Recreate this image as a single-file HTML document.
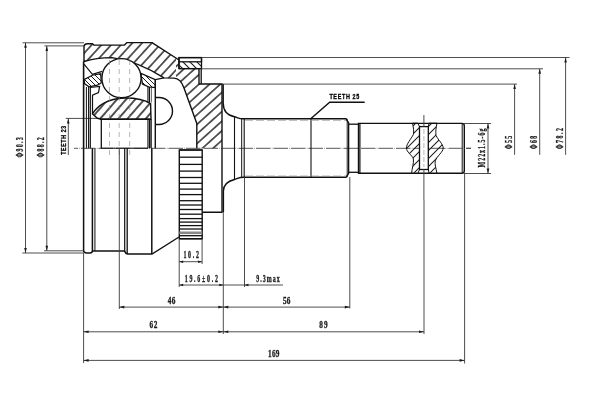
<!DOCTYPE html>
<html><head><meta charset="utf-8"><style>
html,body{margin:0;padding:0;background:#fff;}
svg{display:block;} text{filter:grayscale(1);}
</style></head><body>
<svg width="600" height="400" viewBox="0 0 600 400">
<defs>
<pattern id="h" patternUnits="userSpaceOnUse" width="20" height="7.2" patternTransform="translate(142.1,43) rotate(-47.7)">
<path d="M-1,0 H21 M-1,7.2 H21" stroke="#151515" stroke-width="1.3"/>
</pattern>
<pattern id="hn" patternUnits="userSpaceOnUse" width="20" height="7.13" patternTransform="translate(221.4,102.4) rotate(-42)">
<path d="M-1,0 H21 M-1,7.13 H21" stroke="#151515" stroke-width="1.3"/>
</pattern>
<pattern id="hl" patternUnits="userSpaceOnUse" width="20" height="6.87" patternTransform="translate(118.6,118.5) rotate(-49)">
<path d="M-1,0 H21 M-1,6.87 H21" stroke="#151515" stroke-width="1.3"/>
</pattern>
<pattern id="hc" patternUnits="userSpaceOnUse" x="2" width="7" height="7">
<path d="M0,0 l7,7 M-1,6 l2,2 M6,-1 l2,2" stroke="#1a1a1a" stroke-width="1.1"/>
</pattern>
<pattern id="hg" patternUnits="userSpaceOnUse" x="3" width="8" height="8">
<path d="M-1,1 l2,-2 M0,8 l8,-8 M7,9 l2,-2" stroke="#1a1a1a" stroke-width="1.05"/>
</pattern>
<pattern id="h3" patternUnits="userSpaceOnUse" width="5" height="5">
<path d="M0,0 l5,5 M-1,4 l2,2 M4,-1 l2,2" stroke="#1a1a1a" stroke-width="1"/>
</pattern>
<clipPath id="cth"><rect x="359" y="0" width="120" height="400"/></clipPath>
<clipPath id="cl"><rect x="0" y="0" width="176" height="400"/></clipPath>
<clipPath id="cr"><rect x="176" y="0" width="424" height="400"/></clipPath>
</defs>
<rect width="600" height="400" fill="#fff"/>
<line x1="74" y1="148.3" x2="471" y2="148.3" stroke="#444" stroke-width="0.9" stroke-dasharray="14.5 1.3 0.6 1.1" stroke-dashoffset="10.5"/>
<line x1="22.5" y1="42.8" x2="84" y2="42.8" stroke="#3a3a3a" stroke-width="0.9" />
<line x1="22.3" y1="253" x2="84" y2="253" stroke="#3a3a3a" stroke-width="0.9" />
<line x1="25.5" y1="42.8" x2="25.5" y2="253" stroke="#3a3a3a" stroke-width="0.9" />
<polygon points="25.5,42.8 24.2,47.8 26.8,47.8" fill="#1a1a1a"/>
<polygon points="25.5,253 24.2,248 26.8,248" fill="#1a1a1a"/>
<text transform="translate(23.0,157.6) rotate(-90) scale(0.62,1)" x="0" y="0" font-family="Liberation Serif" font-size="9.6" font-weight="bold" fill="#1a1a1a" stroke="#1a1a1a" stroke-width="0.3" textLength="32.90" lengthAdjust="spacing">&#934;90.3</text>
<line x1="44.4" y1="45.9" x2="84" y2="45.9" stroke="#3a3a3a" stroke-width="0.9" />
<line x1="44" y1="250.8" x2="84" y2="250.8" stroke="#3a3a3a" stroke-width="0.9" />
<line x1="46.8" y1="45.9" x2="46.8" y2="250.8" stroke="#3a3a3a" stroke-width="0.9" />
<polygon points="46.8,45.9 45.5,50.9 48.099999999999994,50.9" fill="#1a1a1a"/>
<polygon points="46.8,250.8 45.5,245.8 48.099999999999994,245.8" fill="#1a1a1a"/>
<text transform="translate(44.0,157.6) rotate(-90) scale(0.62,1)" x="0" y="0" font-family="Liberation Serif" font-size="9.6" font-weight="bold" fill="#1a1a1a" stroke="#1a1a1a" stroke-width="0.3" textLength="32.90" lengthAdjust="spacing">&#934;88.2</text>
<line x1="65.7" y1="118.4" x2="101" y2="118.4" stroke="#3a3a3a" stroke-width="0.9" />
<line x1="68.3" y1="118.4" x2="68.3" y2="155" stroke="#3a3a3a" stroke-width="0.9" />
<polygon points="68.3,118.4 67.0,123.4 69.6,123.4" fill="#1a1a1a"/>
<text transform="translate(65.7,154.8) rotate(-90) scale(0.8,1)" x="0" y="0" font-family="Liberation Sans" font-size="6.5" font-weight="bold" fill="#000" stroke="#000" stroke-width="0.3" textLength="36.25" lengthAdjust="spacing">TEETH 23</text>
<path d="M84,62 L84,47 Q84,43.8 87.5,43.8 L92.5,43.8 L93.8,45.1 L124.5,45.1 L127,42.6 L152,42.6 L179,60 L179,68.6 L199,68.6 L199,84 L222,84 L222,148.3 L196.8,148.3 L196.8,123.5 L184,88 C182,82 179,78.3 174,78.1 L164,77.9 C150,69 130,60 112,57.6 C100,57.6 90,59.5 84,61.5 Z" fill="url(#h)" clip-path="url(#cl)"/>
<path d="M84,62 L84,47 Q84,43.8 87.5,43.8 L92.5,43.8 L93.8,45.1 L124.5,45.1 L127,42.6 L152,42.6 L179,60 L179,68.6 L199,68.6 L199,84 L222,84 L222,148.3 L196.8,148.3 L196.8,123.5 L184,88 C182,82 179,78.3 174,78.1 L164,77.9 C150,69 130,60 112,57.6 C100,57.6 90,59.5 84,61.5 Z" fill="url(#hn)" clip-path="url(#cr)"/>
<path d="M84,62 L84,47 Q84,43.8 87.5,43.8 L92.5,43.8 L93.8,45.1 L124.5,45.1 L127,42.6 L152,42.6 L179,60 L179,68.6 L199,68.6 L199,84 L222,84 L222,148.3 M196.8,148.3 L196.8,123.5 L184,88 C182,82 179,78.3 174,78.1 L164,77.9 C150,69 130,60 112,57.6 C100,57.6 90,59.5 84,61.5" fill="none" stroke="#111" stroke-width="1.4" stroke-linejoin="round"/>
<path d="M92.5,113.9 C97,106 108,98.5 124,98 C136,97.8 145,100 150.6,103.6 L151,119.2 L101.3,119.2 L97.4,118.3 Z" fill="url(#hl)" stroke="#111" stroke-width="1.4"/>
<path d="M84,79.6 L92.4,75.2 L100.7,73.6 L101.2,83 L97.4,85.1 L89.1,86.8 L84.7,83.8 Z" fill="url(#h3)" stroke="#111" stroke-width="1.2"/>
<path d="M141,73.4 L155.3,79.6 L155.3,87.5 L148.6,86.9 L142.4,84 Z" fill="url(#h3)" stroke="#111" stroke-width="1.2"/>
<path d="M84,64.2 L92.4,74.4 L102.3,71.4" fill="none" stroke="#111" stroke-width="1.2"/>
<circle cx="121.5" cy="78.2" r="19.6" fill="#fff" stroke="#111" stroke-width="1.4"/>
<rect x="179" y="61.8" width="22.5" height="6.8" fill="url(#hc)"/>
<line x1="201.2" y1="68.6" x2="201.2" y2="84" stroke="#111" stroke-width="1.3" />
<rect x="179" y="57.6" width="22.5" height="4.2" fill="#fff" stroke="#111" stroke-width="1.3"/>
<rect x="179" y="57.6" width="22.5" height="11" fill="none" stroke="#111" stroke-width="1.3"/>
<path d="M155.3,97.5 L159,97.5 A13.5,13.5 0 0 1 159,124.5 L155.3,124.5" fill="#fff" stroke="#111" stroke-width="1.4"/>
<path d="M101.3,119.2 L101.3,148.3 M151,119.2 L151,148.3" stroke="#111" stroke-width="1.3"/>
<line x1="100" y1="119.2" x2="151" y2="119.2" stroke="#111" stroke-width="1.4" />
<line x1="101" y1="148.2" x2="148" y2="148.2" stroke="#111" stroke-width="1.0" />
<line x1="83.6" y1="61.5" x2="83.6" y2="148.3" stroke="#111" stroke-width="1.6" />
<line x1="86.4" y1="87" x2="86.4" y2="148.3" stroke="#111" stroke-width="1.0" />
<line x1="88.6" y1="87" x2="88.6" y2="148.3" stroke="#111" stroke-width="1.1" />
<path d="M90.3,148.3 L90.3,87.5 L99.6,86.4 L98.5,92.5 L92.5,95.2 L92.5,113.9" fill="none" stroke="#111" stroke-width="1.2"/>
<line x1="147.9" y1="87" x2="147.9" y2="102.5" stroke="#111" stroke-width="1.0" />
<line x1="149.4" y1="87" x2="149.4" y2="102.5" stroke="#111" stroke-width="1.3" />
<line x1="151.4" y1="87" x2="151.4" y2="102.5" stroke="#3a3a3a" stroke-width="0.8" />
<line x1="147.9" y1="119.2" x2="147.9" y2="148.3" stroke="#111" stroke-width="1.0" />
<line x1="149.4" y1="119.2" x2="149.4" y2="148.3" stroke="#111" stroke-width="1.3" />
<line x1="151.4" y1="119.2" x2="151.4" y2="148.3" stroke="#3a3a3a" stroke-width="0.8" />
<line x1="155.3" y1="79.6" x2="155.3" y2="148.3" stroke="#111" stroke-width="1.4" />
<line x1="155.3" y1="79.6" x2="164" y2="77.9" stroke="#111" stroke-width="1.2" />
<line x1="109.5" y1="60" x2="109.5" y2="158" stroke="#888" stroke-width="0.6" stroke-dasharray="5 4"/>
<line x1="119.2" y1="60" x2="119.2" y2="158" stroke="#888" stroke-width="0.6" stroke-dasharray="5 4"/>
<line x1="129.7" y1="60" x2="129.7" y2="158" stroke="#888" stroke-width="0.6" stroke-dasharray="5 4"/>
<path d="M83.6,148.3 L83.6,250 Q83.6,253 87,253 L90,253 Q92.4,253 92.4,250.8 L92.4,148.3" fill="none" stroke="#111" stroke-width="1.5"/>
<line x1="94.9" y1="148.3" x2="94.9" y2="251" stroke="#444" stroke-width="1.3" />
<line x1="92.4" y1="251" x2="125" y2="251" stroke="#111" stroke-width="1.4" />
<line x1="124.7" y1="148.3" x2="124.7" y2="251" stroke="#111" stroke-width="1.2" />
<path d="M124.7,251 Q125.5,254 128,254 L152,254 L179,237" fill="none" stroke="#111" stroke-width="1.4"/>
<line x1="127.2" y1="148.3" x2="127.2" y2="254" stroke="#111" stroke-width="1.3" />
<line x1="151.8" y1="148.3" x2="151.8" y2="254" stroke="#111" stroke-width="1.5" />
<rect x="179.3" y="150" width="22.9" height="88.7" fill="#fff" stroke="#111" stroke-width="1.4"/>
<line x1="179.3" y1="150" x2="202.2" y2="150" stroke="#111" stroke-width="1.3" />
<line x1="179.3" y1="157.2" x2="202.2" y2="157.2" stroke="#111" stroke-width="1.3" />
<line x1="179.3" y1="164.4" x2="202.2" y2="164.4" stroke="#111" stroke-width="1.3" />
<line x1="179.3" y1="171.1" x2="202.2" y2="171.1" stroke="#111" stroke-width="1.3" />
<line x1="179.3" y1="177.5" x2="202.2" y2="177.5" stroke="#111" stroke-width="1.3" />
<line x1="179.3" y1="183.3" x2="202.2" y2="183.3" stroke="#111" stroke-width="1.3" />
<line x1="179.3" y1="189.1" x2="202.2" y2="189.1" stroke="#111" stroke-width="1.3" />
<line x1="179.3" y1="194.6" x2="202.2" y2="194.6" stroke="#111" stroke-width="1.3" />
<line x1="179.3" y1="200.7" x2="202.2" y2="200.7" stroke="#111" stroke-width="1.3" />
<line x1="179.3" y1="205" x2="202.2" y2="205" stroke="#111" stroke-width="1.3" />
<line x1="179.3" y1="209.5" x2="202.2" y2="209.5" stroke="#111" stroke-width="1.3" />
<line x1="179.3" y1="214.2" x2="202.2" y2="214.2" stroke="#111" stroke-width="1.3" />
<line x1="179.3" y1="218.6" x2="202.2" y2="218.6" stroke="#111" stroke-width="1.3" />
<line x1="179.3" y1="222.1" x2="202.2" y2="222.1" stroke="#111" stroke-width="1.3" />
<line x1="179.3" y1="225.6" x2="202.2" y2="225.6" stroke="#111" stroke-width="1.3" />
<line x1="179.3" y1="229" x2="202.2" y2="229" stroke="#111" stroke-width="1.3" />
<line x1="179.3" y1="235.7" x2="202.2" y2="235.7" stroke="#111" stroke-width="1.3" />
<line x1="179.3" y1="238.8" x2="202.2" y2="238.8" stroke="#111" stroke-width="1.3" />
<rect x="179.3" y="231.5" width="22.9" height="2.6" fill="#888"/>
<path d="M202.2,212.2 L222,212.2 L222,148.3" fill="none" stroke="#111" stroke-width="1.4"/>
<path d="M223.2,84 L223.2,103 C223.2,110.5 227,115.3 234.5,116.8 C237.5,117.6 239.5,118.8 243,118.8 L346,118.8 L348.6,122.8 L348.6,173.5 L346,177.3 L243.5,177.3 C239.5,177.3 237.5,178.6 234.5,179.5 C227.5,181.2 223.4,185 223.4,191 L223.4,212" fill="none" stroke="#111" stroke-width="1.4"/>
<line x1="234.5" y1="116.5" x2="234.5" y2="179.5" stroke="#111" stroke-width="1.1" />
<line x1="241.7" y1="118.8" x2="241.7" y2="177.3" stroke="#111" stroke-width="1.0" />
<line x1="244.2" y1="118.8" x2="244.2" y2="177.3" stroke="#111" stroke-width="1.1" />
<line x1="311" y1="118.8" x2="311" y2="177.3" stroke="#111" stroke-width="1.1" />
<line x1="347.2" y1="118.8" x2="347.2" y2="177.3" stroke="#111" stroke-width="0.9" />
<line x1="245" y1="120.5" x2="346" y2="120.5" stroke="#999" stroke-width="0.6" stroke-dasharray="8 3"/>
<line x1="245" y1="175.9" x2="346" y2="175.9" stroke="#999" stroke-width="0.6" stroke-dasharray="8 3"/>
<line x1="348.6" y1="124.2" x2="358.5" y2="124.2" stroke="#111" stroke-width="1.3" />
<line x1="348.6" y1="172.3" x2="358.5" y2="172.3" stroke="#111" stroke-width="1.3" />
<path d="M358.5,123.4 L462,123.4 Q464.3,123.4 464.3,126 L464.3,170.8 Q464.3,173.3 462,173.3 L358.5,173.3 Z" fill="#fff" stroke="#111" stroke-width="1.4"/>
<line x1="359.9" y1="123.2" x2="359.9" y2="173.5" stroke="#111" stroke-width="1.2" />
<line x1="462.2" y1="124" x2="462.2" y2="172.7" stroke="#111" stroke-width="1.0" />
<line x1="74" y1="148.3" x2="471" y2="148.3" stroke="#444" stroke-width="0.9" stroke-dasharray="14.5 1.3 0.6 1.1" stroke-dashoffset="10.5" clip-path="url(#cth)"/>
<path d="M412.5,123.2 C413.5,128 414,131 413.4,134.5 C411,139 406.4,144 406.4,148 C406.4,152 412,155 413.4,159 C414,163 412,168 411.6,173.5 L417.8,173.5 L419.5,169.5 L419.5,126.6 L417.8,123.2 Z" fill="url(#hg)" stroke="#111" stroke-width="1.0"/>
<path d="M437,123.2 C436,128 435.5,131 436,135.4 C438,140 443.2,144 443.2,148 C443.2,152 437,156 435.3,160.8 C434.5,164 436,168 437,173.5 L429.1,173.5 L428.3,169.5 L428.3,126.6 L429.1,123.2 Z" fill="url(#hg)" stroke="#111" stroke-width="1.0"/>
<rect x="419.5" y="126.6" width="8.8" height="42.9" fill="#fff" stroke="#111" stroke-width="1.3"/>
<line x1="423.9" y1="115" x2="423.9" y2="127" stroke="#3a3a3a" stroke-width="0.9" />
<line x1="423.9" y1="169" x2="423.9" y2="200" stroke="#3a3a3a" stroke-width="0.9" />
<line x1="423.9" y1="129" x2="423.9" y2="167" stroke="#999" stroke-width="0.7" stroke-dasharray="5 2"/>
<path d="M311,118.5 L329.7,102.3 L364.7,102.3" fill="none" stroke="#111" stroke-width="1.4"/>
<text transform="translate(329.4,98.8) scale(0.8,1)" x="0" y="0" font-family="Liberation Sans" font-size="6.8" font-weight="bold" fill="#000" stroke="#000" stroke-width="0.3" textLength="37.37" lengthAdjust="spacing">TEETH 25</text>
<line x1="201.5" y1="57.5" x2="569.5" y2="57.5" stroke="#3a3a3a" stroke-width="0.9" />
<line x1="201.5" y1="68.8" x2="543" y2="68.8" stroke="#3a3a3a" stroke-width="0.9" />
<line x1="222" y1="84.1" x2="517" y2="84.1" stroke="#3a3a3a" stroke-width="0.9" />
<line x1="565.6" y1="57.5" x2="565.6" y2="154.8" stroke="#3a3a3a" stroke-width="0.9" />
<polygon points="565.6,57.5 564.3000000000001,62.5 566.9,62.5" fill="#1a1a1a"/>
<line x1="539.7" y1="68.8" x2="539.7" y2="154.8" stroke="#3a3a3a" stroke-width="0.9" />
<polygon points="539.7,68.8 538.4000000000001,73.8 541.0,73.8" fill="#1a1a1a"/>
<line x1="514.6" y1="84.1" x2="514.6" y2="154.8" stroke="#3a3a3a" stroke-width="0.9" />
<polygon points="514.6,84.1 513.3000000000001,89.1 515.9,89.1" fill="#1a1a1a"/>
<text transform="translate(563.0,149.3) rotate(-90) scale(0.62,1)" x="0" y="0" font-family="Liberation Serif" font-size="9.6" font-weight="bold" fill="#1a1a1a" stroke="#1a1a1a" stroke-width="0.3" textLength="34.19" lengthAdjust="spacing">&#934;78.2</text>
<text transform="translate(537.4,149.3) rotate(-90) scale(0.62,1)" x="0" y="0" font-family="Liberation Serif" font-size="9.6" font-weight="bold" fill="#1a1a1a" stroke="#1a1a1a" stroke-width="0.3" textLength="21.94" lengthAdjust="spacing">&#934;68</text>
<text transform="translate(511.8,149.3) rotate(-90) scale(0.62,1)" x="0" y="0" font-family="Liberation Serif" font-size="9.6" font-weight="bold" fill="#1a1a1a" stroke="#1a1a1a" stroke-width="0.3" textLength="21.94" lengthAdjust="spacing">&#934;55</text>
<line x1="464" y1="123.5" x2="491" y2="123.5" stroke="#3a3a3a" stroke-width="0.9" />
<line x1="464" y1="173.5" x2="491" y2="173.5" stroke="#3a3a3a" stroke-width="0.9" />
<line x1="488" y1="123.5" x2="488" y2="173.5" stroke="#3a3a3a" stroke-width="0.9" />
<polygon points="488,123.5 486.7,128.5 489.3,128.5" fill="#1a1a1a"/>
<polygon points="488,173.5 486.7,168.5 489.3,168.5" fill="#1a1a1a"/>
<text transform="translate(485.2,167.4) rotate(-90) scale(0.62,1)" x="0" y="0" font-family="Liberation Serif" font-size="9.6" font-weight="bold" fill="#1a1a1a" stroke="#1a1a1a" stroke-width="0.3" textLength="62.58" lengthAdjust="spacing">M22x1.5-6g</text>
<line x1="83.6" y1="253" x2="83.6" y2="363" stroke="#3a3a3a" stroke-width="0.9" />
<line x1="119.3" y1="148.3" x2="119.3" y2="309" stroke="#3a3a3a" stroke-width="0.9" />
<line x1="179.2" y1="239" x2="179.2" y2="287" stroke="#3a3a3a" stroke-width="0.9" />
<line x1="202.1" y1="239" x2="202.1" y2="264" stroke="#3a3a3a" stroke-width="0.9" />
<line x1="223.3" y1="212" x2="223.3" y2="334" stroke="#3a3a3a" stroke-width="0.9" />
<line x1="244.5" y1="177.3" x2="244.5" y2="287" stroke="#3a3a3a" stroke-width="0.9" />
<line x1="349.8" y1="177" x2="349.8" y2="308.5" stroke="#3a3a3a" stroke-width="0.9" />
<line x1="424" y1="200" x2="424" y2="334" stroke="#3a3a3a" stroke-width="0.9" />
<line x1="464.6" y1="173.5" x2="464.6" y2="363.5" stroke="#3a3a3a" stroke-width="0.9" />
<line x1="179.2" y1="261.7" x2="202.1" y2="261.7" stroke="#3a3a3a" stroke-width="0.9" />
<polygon points="179.2,261.7 183.2,260.4 183.2,263.0" fill="#1a1a1a"/>
<polygon points="202.1,261.7 198.1,260.4 198.1,263.0" fill="#1a1a1a"/>
<text transform="translate(183.4,257.9) scale(0.62,1)" x="0" y="0" font-family="Liberation Serif" font-size="9.6" font-weight="bold" fill="#1a1a1a" stroke="#1a1a1a" stroke-width="0.3" textLength="25.00" lengthAdjust="spacing">10.2</text>
<line x1="179.2" y1="285" x2="283" y2="285" stroke="#3a3a3a" stroke-width="0.9" />
<polygon points="179.2,285 183.2,283.7 183.2,286.3" fill="#1a1a1a"/>
<polygon points="223.3,285 219.3,283.7 219.3,286.3" fill="#1a1a1a"/>
<polygon points="244.5,285 248.5,283.7 248.5,286.3" fill="#1a1a1a"/>
<text transform="translate(184.7,281.8) scale(0.62,1)" x="0" y="0" font-family="Liberation Serif" font-size="9.6" font-weight="bold" fill="#1a1a1a" stroke="#1a1a1a" stroke-width="0.3" textLength="53.71" lengthAdjust="spacing">19.6&#177;0.2</text>
<text transform="translate(256.3,281.8) scale(0.62,1)" x="0" y="0" font-family="Liberation Serif" font-size="9.6" font-weight="bold" fill="#1a1a1a" stroke="#1a1a1a" stroke-width="0.3" textLength="37.58" lengthAdjust="spacing">9.3max</text>
<line x1="119.3" y1="307.1" x2="349.8" y2="307.1" stroke="#3a3a3a" stroke-width="0.9" />
<polygon points="119.3,307.1 124.3,305.8 124.3,308.40000000000003" fill="#1a1a1a"/>
<polygon points="223.3,307.1 218.3,305.8 218.3,308.40000000000003" fill="#1a1a1a"/>
<polygon points="223.3,307.1 228.3,305.8 228.3,308.40000000000003" fill="#1a1a1a"/>
<polygon points="349.8,307.1 344.8,305.8 344.8,308.40000000000003" fill="#1a1a1a"/>
<text transform="translate(167.7,303.6) scale(0.76,1)" x="0" y="0" font-family="Liberation Serif" font-size="9.6" font-weight="bold" fill="#1a1a1a" stroke="#1a1a1a" stroke-width="0.3" textLength="10.00" lengthAdjust="spacing">46</text>
<text transform="translate(283.0,303.8) scale(0.76,1)" x="0" y="0" font-family="Liberation Serif" font-size="9.6" font-weight="bold" fill="#1a1a1a" stroke="#1a1a1a" stroke-width="0.3" textLength="9.74" lengthAdjust="spacing">56</text>
<line x1="83.6" y1="331.8" x2="424" y2="331.8" stroke="#3a3a3a" stroke-width="0.9" />
<polygon points="83.6,331.8 88.6,330.5 88.6,333.1" fill="#1a1a1a"/>
<polygon points="223.3,331.8 218.3,330.5 218.3,333.1" fill="#1a1a1a"/>
<polygon points="223.3,331.8 228.3,330.5 228.3,333.1" fill="#1a1a1a"/>
<polygon points="424,331.8 419,330.5 419,333.1" fill="#1a1a1a"/>
<text transform="translate(149.5,327.8) scale(0.76,1)" x="0" y="0" font-family="Liberation Serif" font-size="9.6" font-weight="bold" fill="#1a1a1a" stroke="#1a1a1a" stroke-width="0.3" textLength="10.26" lengthAdjust="spacing">62</text>
<text transform="translate(319.2,327.8) scale(0.76,1)" x="0" y="0" font-family="Liberation Serif" font-size="9.6" font-weight="bold" fill="#1a1a1a" stroke="#1a1a1a" stroke-width="0.3" textLength="11.05" lengthAdjust="spacing">89</text>
<line x1="83.6" y1="360.4" x2="464.6" y2="360.4" stroke="#3a3a3a" stroke-width="0.9" />
<polygon points="83.6,360.4 88.6,359.09999999999997 88.6,361.7" fill="#1a1a1a"/>
<polygon points="464.6,360.4 459.6,359.09999999999997 459.6,361.7" fill="#1a1a1a"/>
<text transform="translate(268.1,357.0) scale(0.76,1)" x="0" y="0" font-family="Liberation Serif" font-size="9.6" font-weight="bold" fill="#1a1a1a" stroke="#1a1a1a" stroke-width="0.3" textLength="14.87" lengthAdjust="spacing">169</text>
</svg>
</body></html>
